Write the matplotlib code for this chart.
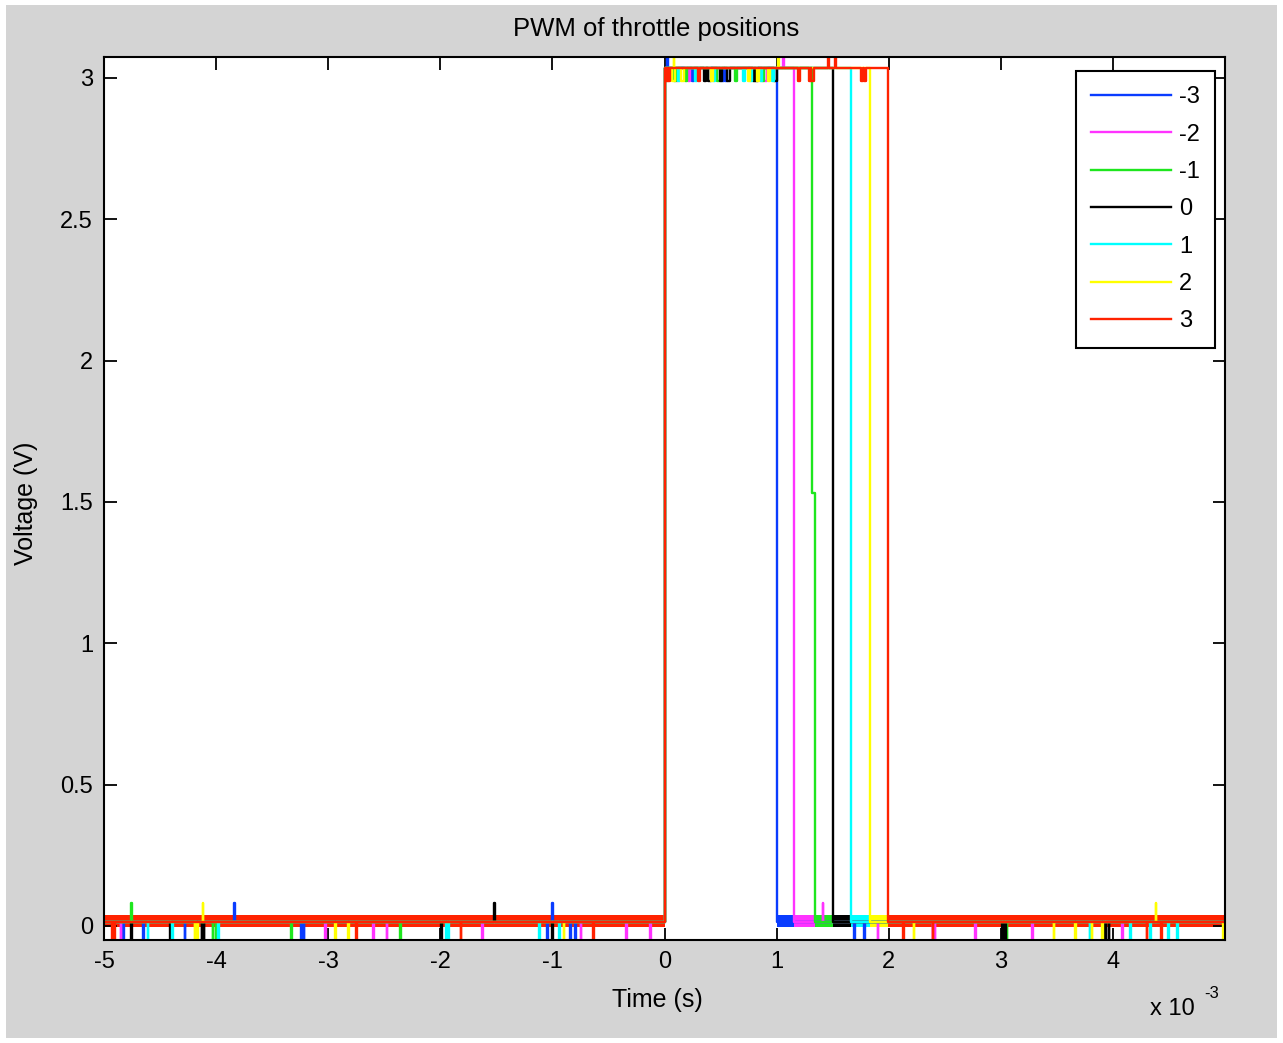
import numpy as np
import matplotlib.pyplot as plt
from matplotlib.patches import Rectangle

plt.rcParams['font.family'] = ['Liberation Sans', 'DejaVu Sans']

# throttle positions and their trace colours
labels = ['-3', '-2', '-1', '0', '1', '2', '3']
colors = ['#0a3cff', '#ff33ff', '#1ee61e', '#000000', '#00ffff', '#ffff00', '#ff2200']

# every pulse rises at 0 ms, falling edge (ms)
fall_ms = [1.00, 1.15, 1.34, 1.50, 1.66, 1.83, 1.99]
# the -1 trace sits half way down for a moment
green_step_ms = 1.318
green_step_v = 1.53

# levels (V)
low_v = 0.015
band_lo = -0.004
band_hi = 0.04
high_v = 3.035
high_dip_v = 2.99
dip_v = -0.05
bump_v = 0.081
spike_v = 3.074

# glitches below the low band (ms)
dips = [
    [-4.83, -4.65, -4.28, -3.24, -3.22, -1.05, -0.84, -0.80, 1.69, 1.78, 3.03],
    [-4.85, -3.03, -2.60, -2.48, -1.63, -0.75, -0.34, -0.13, 1.90, 2.39, 2.41, 2.77, 3.28, 4.08],
    [-4.03, -4.00, -3.33, -2.36, 3.05],
    [-4.76, -4.41, -4.13, -4.11, -1.99, -1.00, 3.01, 3.04, 3.93, 3.96],
    [-4.61, -4.39, -3.98, -1.95, -1.93, -1.12, -0.94, 3.79, 4.15, 4.33, 4.49, 4.57],
    [-4.19, -4.17, -2.94, -2.82, -0.90, 2.22, 3.47, 3.66, 3.81, 3.90, 4.98],
    [-4.93, -4.91, -2.75, -1.82, -0.64, 2.13, 2.39, 4.30, 4.43],
]
# glitches above the low band (ms)
bumps = [
    [-3.84, -1.00],
    [1.41],
    [-4.76],
    [-1.52],
    [],
    [-4.12, 4.38],
    [],
]
# short drops from the high level (ms)
high_dips = [
    [0.24, 0.51, 0.54],
    [0.10, 0.21, 0.89],
    [0.08, 0.18, 0.47, 0.63, 0.87],
    [0.35, 0.39, 0.49, 0.56, 0.79, 0.81, 0.98],
    [0.12, 0.27, 0.43, 0.70, 0.76, 0.85, 0.96],
    [0.07, 0.15, 0.41, 0.74, 0.82, 0.92],
    [0.01, 0.03, 0.30, 1.19, 1.29, 1.31, 1.75, 1.78],
]
# spikes up to the top of the axes (ms)
spikes = [
    [0.02],
    [1.06],
    [],
    [],
    [],
    [0.08, 1.01],
    [1.46, 1.52],
]

x0, x1 = -5.0, 4.998


def build_trace(k):
    fall = fall_ms[k]
    events = []
    for t in dips[k]:
        events.append((t, dip_v, 0.006))
    for t in bumps[k]:
        events.append((t, bump_v, 0.006))
    for t in high_dips[k]:
        events.append((t, high_dip_v, 0.02))
    for t in spikes[k]:
        events.append((t, spike_v, 0.006))
    events.append((0.0, 'rise', 0))
    events.append((fall, 'fall', 0))
    events.sort(key=lambda e: e[0])

    ts, vs = [x0], [low_v]
    for t, g, w in events:
        if g == 'rise':
            ts += [0.0, 0.0]
            vs += [low_v, high_v]
        elif g == 'fall':
            if k == 2:
                ts += [green_step_ms, green_step_ms, fall, fall]
                vs += [high_v, green_step_v, green_step_v, low_v]
            else:
                ts += [fall, fall]
                vs += [high_v, low_v]
        else:
            base = high_v if 0.0 <= t < fall else low_v
            ts += [t, t, t + w, t + w]
            vs += [base, g, g, base]
    ts.append(x1)
    vs.append(low_v)
    return np.array(ts) * 1e-3, np.array(vs)


fig = plt.figure(figsize=(12.83, 10.43), dpi=100, facecolor='white')
fig.patches.append(Rectangle((6 / 1283, 5 / 1043), 1271 / 1283, 1033 / 1043,
                             transform=fig.transFigure, facecolor='#d4d4d4',
                             edgecolor='none', zorder=-10))
ax = fig.add_axes([104 / 1283, 103 / 1043, 1121 / 1283, 883 / 1043])
ax.set_facecolor('white')

for k in range(len(labels)):
    c = colors[k]
    ax.fill_between(np.array([x0, 0.0]) * 1e-3, band_lo, band_hi, color=c, linewidth=0)
    ax.fill_between(np.array([fall_ms[k], x1]) * 1e-3, band_lo, band_hi, color=c, linewidth=0)
    t, v = build_trace(k)
    ax.plot(t, v, color=c, linewidth=1.7, label=labels[k])

ax.set_xlim(x0 * 1e-3, x1 * 1e-3)
ax.set_ylim(dip_v, spike_v)
xt = np.arange(-5, 5)
ax.set_xticks(xt * 1e-3)
ax.set_xticklabels([str(i) for i in xt])
yt = [0, 0.5, 1, 1.5, 2, 2.5, 3]
ax.set_yticks(yt)
ax.set_yticklabels(['%g' % y for y in yt])
ax.tick_params(direction='in', length=9, width=1.3, top=True, right=True,
               labelsize=17, colors='black')
ax.tick_params(axis='x', pad=8)
ax.tick_params(axis='y', pad=8)
for s in ax.spines.values():
    s.set_linewidth(1.5)

ax.set_xlabel('Time (s)', fontsize=18, va='center')
ax.xaxis.set_label_coords((657 - 104) / 1121, -(1000 - 940) / 883)
ax.set_ylabel('Voltage (V)', fontsize=18, va='center')
ax.yaxis.set_label_coords((26 - 104) / 1121, (940 - 503) / 883)

fig.text(656 / 1283, 1 - 29 / 1043, 'PWM of throttle positions', fontsize=18.5,
         ha='center', va='center')
fig.text(1150 / 1283, 1 - 1009 / 1043, 'x 10', fontsize=17, ha='left', va='center')
fig.text(1204 / 1283, 1 - 993 / 1043, '-3', fontsize=12, ha='left', va='center')

leg = ax.legend(loc='upper right', bbox_to_anchor=((1215 - 104) / 1121, (940 - 71) / 883),
                borderaxespad=0, fontsize=17, handlelength=3.35, handletextpad=0.35,
                labelspacing=0.65, borderpad=0.65, fancybox=False, framealpha=1)
leg.get_frame().set_edgecolor('black')
leg.get_frame().set_linewidth(1.5)

fig.savefig('out.png', dpi=100, facecolor=fig.get_facecolor())
